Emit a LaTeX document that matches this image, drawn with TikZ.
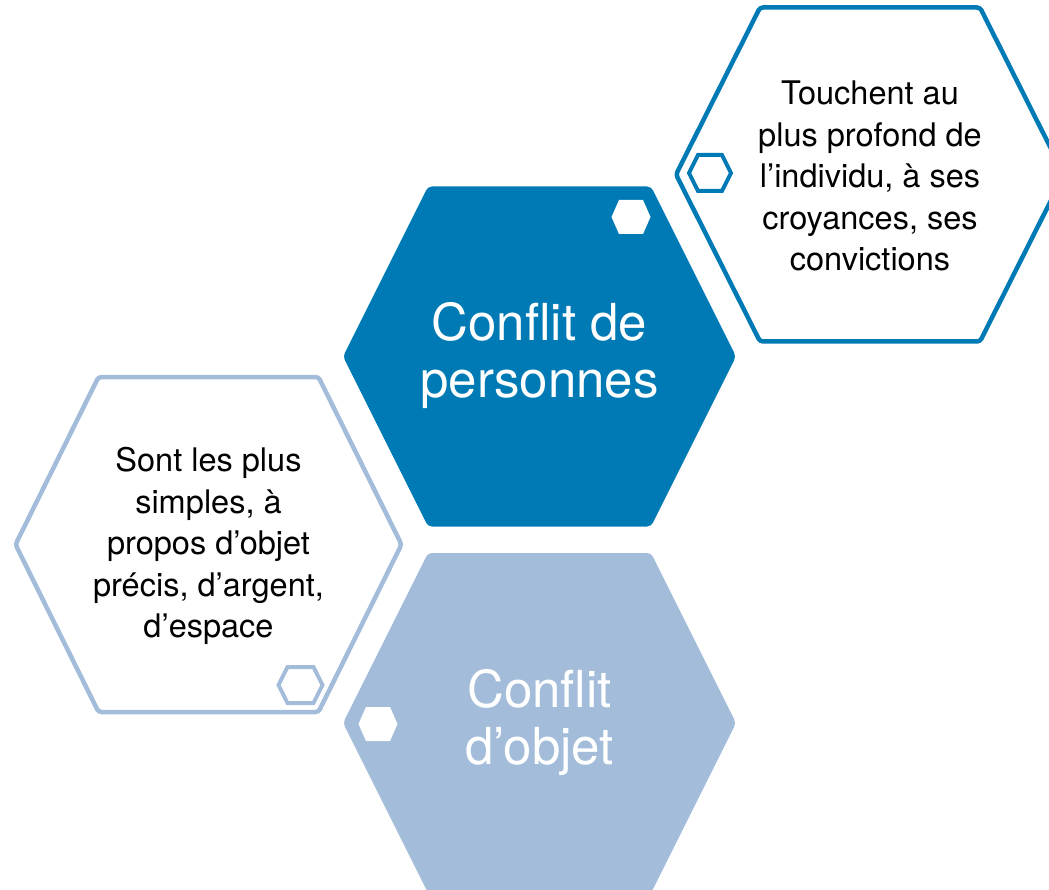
\documentclass[tikz,border=0pt]{standalone}
\usepackage{fontspec}
\setmainfont{TeX Gyre Heros}
\definecolor{dblue}{RGB}{0,122,181}
\definecolor{lblue}{RGB}{162,188,218}
\newcommand{\hexat}[5]{({#1-#3},{#2}) -- ({#1-#3+#4},{#2-#5}) -- ({#1+#3-#4},{#2-#5}) -- ({#1+#3},{#2}) -- ({#1+#3-#4},{#2+#5}) -- ({#1-#3+#4},{#2+#5}) -- cycle}
\tikzset{
  bigtext/.style={align=center, text=white, font=\fontsize{51}{57}\selectfont},
  smalltext/.style={align=center, text=black, font=\fontsize{32.5}{41.5}\selectfont},
}
\begin{document}
\begin{tikzpicture}[x=1pt,y=-1pt]
\useasboundingbox (0,0) rectangle (1049,890);
\clip (0,0) rectangle (1049,890);
% outline hexagons
\draw[dblue, line width=4.5pt, rounded corners=3pt] \hexat{870}{174.5}{194}{84}{167};
\draw[lblue, line width=4.5pt, rounded corners=3pt] \hexat{208.5}{544.5}{193}{83}{167.5};
% filled hexagons
\fill[dblue, rounded corners=4pt] \hexat{539.5}{356.5}{196.5}{85}{170};
\fill[lblue, rounded corners=4pt] \hexat{539.5}{723}{196.5}{85}{170};
% small hexagons
\fill[white] \hexat{631}{217}{19.5}{7.5}{17};
\fill[white] \hexat{378}{724}{19.5}{7.5}{17};
\draw[dblue, line width=4pt] \hexat{710}{173}{21}{9}{18};
\draw[lblue, line width=4pt] \hexat{300.5}{685}{22}{9}{18};
% texts
\node[bigtext] (pers) at (539.5,356) {Conflit de\\personnes};
\node[bigtext] (obj) at (539.5,723) {Conflit\\d’objet};
\node[smalltext] (pdesc) at (870,176) {Touchent au\\plus profond de\\l’individu, à ses\\croyances, ses\\convictions};
\node[smalltext] (odesc) at (208.5,546) {Sont les plus\\simples, à\\propos d’objet\\précis, d’argent,\\d’espace};
\end{tikzpicture}
\end{document}
